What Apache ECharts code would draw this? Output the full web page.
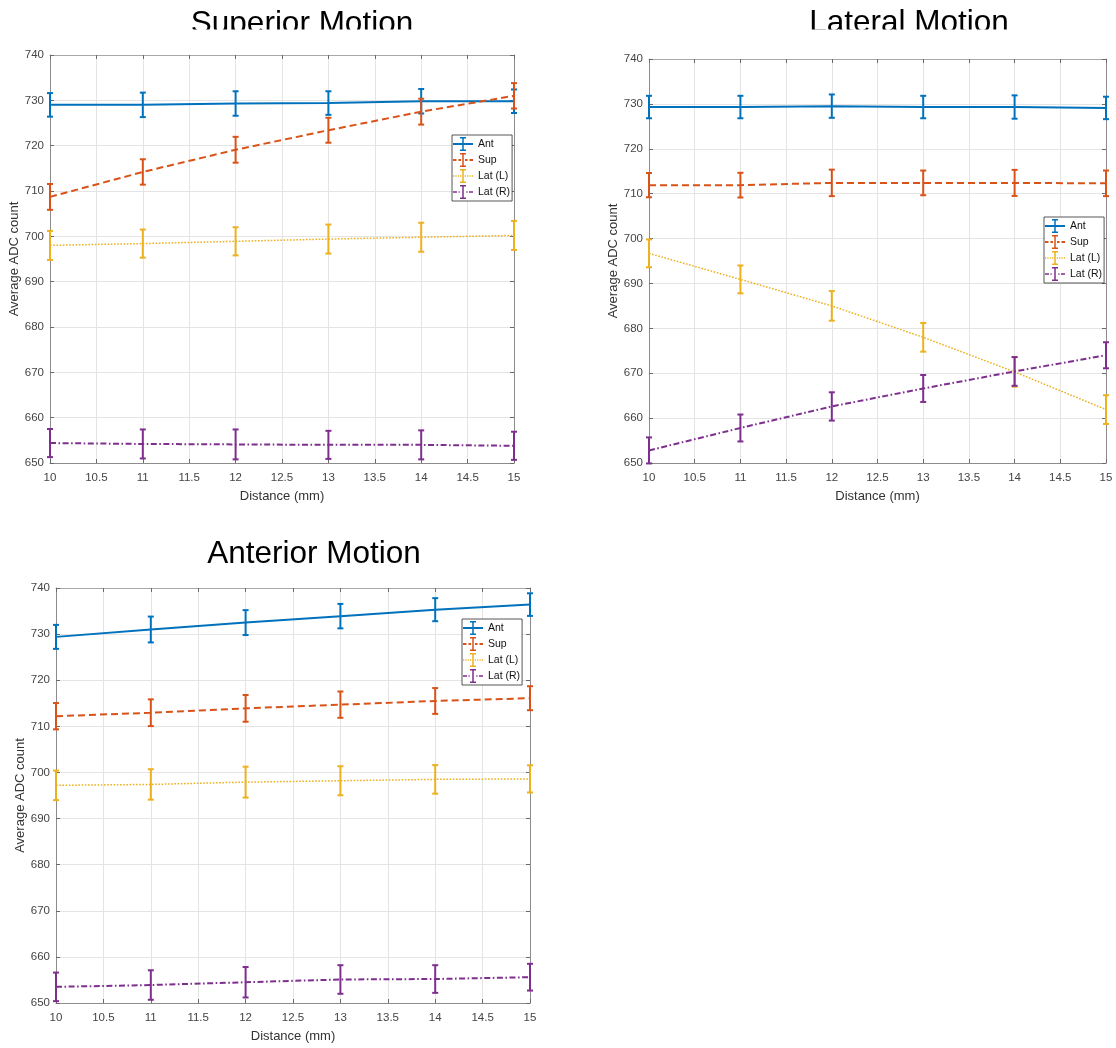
<!DOCTYPE html>
<html>
<head>
<meta charset="utf-8">
<title>Average ADC count vs distance</title>
<script src="https://cdn.jsdelivr.net/npm/echarts@6/dist/echarts.min.js"></script>
<style>
  html, body { margin: 0; padding: 0; background: #ffffff; }
  #chart { width: 1116px; height: 1048px; }
</style>
</head>
<body>
<div id="chart"></div>
<script>
// ---- data -------------------------------------------------------------
const distance = [10, 11, 12, 13, 14, 15];
const seriesNames = ['Ant', 'Sup', 'Lat (L)', 'Lat (R)'];
const panelTitles = ['Superior Motion', 'Lateral Motion', 'Anterior Motion'];
const xAxisTitle = 'Distance (mm)';
const yAxisTitle = 'Average ADC count';
const xMin = 10, xMax = 15, xStep = 0.5;
const yMin = 650, yMax = 740, yStep = 10;

// Superior motion: mean and error half-width per distance
const superiorAnt     = [729.0, 729.0, 729.3, 729.4, 729.8, 729.8];
const superiorAntErr  = [2.6, 2.7, 2.7, 2.6, 2.7, 2.6];
const superiorSup     = [708.7, 714.2, 719.1, 723.4, 727.5, 731.0];
const superiorSupErr  = [2.85, 2.8, 2.85, 2.75, 2.85, 2.8];
const superiorLatL    = [698.0, 698.4, 698.9, 699.4, 699.8, 700.2];
const superiorLatLErr = [3.2, 3.1, 3.1, 3.2, 3.2, 3.2];
const superiorLatR    = [654.4, 654.2, 654.1, 654.0, 654.0, 653.8];
const superiorLatRErr = [3.1, 3.2, 3.3, 3.1, 3.2, 3.1];

// Lateral motion
const lateralAnt     = [729.3, 729.3, 729.5, 729.3, 729.3, 729.1];
const lateralAntErr  = [2.5, 2.5, 2.6, 2.5, 2.6, 2.5];
const lateralSup     = [711.9, 711.9, 712.4, 712.4, 712.4, 712.3];
const lateralSupErr  = [2.7, 2.75, 2.95, 2.75, 2.9, 2.85];
const lateralLatL    = [696.7, 690.9, 685.0, 678.0, 670.3, 661.9];
const lateralLatLErr = [3.1, 3.1, 3.3, 3.2, 3.3, 3.2];
const lateralLatR    = [652.8, 657.8, 662.6, 666.6, 670.4, 674.0];
const lateralLatRErr = [2.9, 3.0, 3.15, 3.0, 3.2, 2.9];

// Anterior motion
const anteriorAnt     = [729.4, 731.0, 732.5, 733.9, 735.3, 736.4];
const anteriorAntErr  = [2.6, 2.8, 2.7, 2.65, 2.5, 2.45];
const anteriorSup     = [712.2, 712.95, 713.9, 714.7, 715.5, 716.1];
const anteriorSupErr  = [2.85, 2.9, 2.9, 2.85, 2.8, 2.6];
const anteriorLatL    = [697.2, 697.4, 697.9, 698.2, 698.5, 698.6];
const anteriorLatLErr = [3.2, 3.3, 3.35, 3.15, 3.1, 2.95];
const anteriorLatR    = [653.5, 653.9, 654.5, 655.1, 655.2, 655.6];
const anteriorLatRErr = [3.1, 3.2, 3.3, 3.1, 3.0, 2.9];

const panelMeans = [
  [superiorAnt, superiorSup, superiorLatL, superiorLatR],
  [lateralAnt, lateralSup, lateralLatL, lateralLatR],
  [anteriorAnt, anteriorSup, anteriorLatL, anteriorLatR]
];
const panelErrors = [
  [superiorAntErr, superiorSupErr, superiorLatLErr, superiorLatRErr],
  [lateralAntErr, lateralSupErr, lateralLatLErr, lateralLatRErr],
  [anteriorAntErr, anteriorSupErr, anteriorLatLErr, anteriorLatRErr]
];

// ---- layout and styling -------------------------------------------------
const FONT = '"Liberation Sans", Arial, Helvetica, sans-serif';

const panels = [
  { grid: { left: 50,  top: 55,  width: 464, height: 408 }, titleX: 302, titleY: 8,   legend: [452, 135] },
  { grid: { left: 649, top: 59,  width: 457, height: 404 }, titleX: 909, titleY: 7,   legend: [1044, 217] },
  { grid: { left: 56,  top: 588, width: 474, height: 415 }, titleX: 314, titleY: 538, legend: [462, 619] }
];

const lineStyles = [
  { color: '#0072BD', width: 2,   type: 'solid' },
  { color: '#D95319', width: 2,   type: [7, 4] },
  { color: '#EDB120', width: 1.5, type: [1.6, 1.6] },
  { color: '#7E2F8E', width: 2,   type: [6, 2.5, 1.6, 2.5] }
];

// Legend glyphs: a line sample (in the series' dash pattern) with an error-bar "I" in the middle.
function rect(x0, x1, y0, y1) {
  return 'M' + x0 + ' ' + y0 + 'H' + x1 + 'V' + y1 + 'H' + x0 + 'Z';
}
const errGlyph = rect(9.25, 10.75, 0, 14) + rect(7, 13, 0, 1.5) + rect(7, 13, 12.5, 14);
const dottedLine = (function () {
  let d = '';
  for (let k = 0; k <= 8; k++) { const x = +(k * 2.35).toFixed(2); d += rect(x, +(x + 1.2).toFixed(2), 6.3, 7.7); }
  return d;
})();
const legendIcons = [
  'path://' + rect(0, 20, 6, 8) + errGlyph,
  'path://' + rect(0, 3.5, 6, 8) + rect(5.5, 8, 6, 8) + rect(12, 14.5, 6, 8) + rect(16.5, 20, 6, 8) + errGlyph,
  'path://' + dottedLine + errGlyph,
  'path://' + rect(0, 4, 6.2, 7.8) + rect(5.5, 6.7, 6.2, 7.8) + rect(13.3, 14.5, 6.2, 7.8) + rect(16, 20, 6.2, 7.8) + errGlyph
];

const labelColor = '#444444';
const frameColor = '#8c8c8c';
const gridColor = '#e4e4e4';

function makeXAxis(gridIndex, onTop) {
  return {
    type: 'value', gridIndex: gridIndex, position: onTop ? 'top' : 'bottom',
    min: xMin, max: xMax, interval: xStep,
    name: onTop ? '' : xAxisTitle, nameLocation: 'middle', nameGap: 27,
    nameTextStyle: { fontFamily: FONT, fontSize: 13, color: '#333333' },
    axisLine: { show: true, onZero: false, lineStyle: { color: onTop ? '#a8a8a8' : frameColor, width: 1 } },
    axisTick: { show: true, inside: true, length: 4, lineStyle: { color: '#6a6a6a' } },
    axisLabel: { show: !onTop, margin: 9, fontFamily: FONT, fontSize: 11.5, color: labelColor },
    splitLine: { show: !onTop, lineStyle: { color: gridColor, width: 1 } }
  };
}
function makeYAxis(gridIndex, onRight) {
  return {
    type: 'value', gridIndex: gridIndex, position: onRight ? 'right' : 'left',
    min: yMin, max: yMax, interval: yStep,
    name: onRight ? '' : yAxisTitle, nameLocation: 'middle', nameGap: 28,
    nameTextStyle: { fontFamily: FONT, fontSize: 13, color: '#333333' },
    axisLine: { show: true, onZero: false, lineStyle: { color: frameColor, width: 1 } },
    axisTick: { show: true, inside: true, length: 4, lineStyle: { color: '#6a6a6a' } },
    axisLabel: { show: !onRight, margin: 6, fontFamily: FONT, fontSize: 11.5, color: labelColor },
    splitLine: { show: !onRight, lineStyle: { color: gridColor, width: 1 } }
  };
}

function lineSeries(p, s) {
  const st = lineStyles[s];
  return {
    type: 'line', name: seriesNames[s],
    xAxisIndex: 2 * p, yAxisIndex: 2 * p,
    data: distance.map((x, i) => [x, panelMeans[p][s][i]]),
    showSymbol: false, symbol: 'none', silent: true, z: 2 + s,
    color: st.color,
    lineStyle: { color: st.color, width: st.width, type: st.type },
    emphasis: { disabled: true }
  };
}

function errorSeries(p, s) {
  const color = lineStyles[s].color;
  return {
    type: 'custom', name: seriesNames[s],
    xAxisIndex: 2 * p, yAxisIndex: 2 * p,
    data: distance.map((x, i) => [x, panelMeans[p][s][i] - panelErrors[p][s][i], panelMeans[p][s][i] + panelErrors[p][s][i]]),
    encode: { x: 0, y: [1, 2] },
    silent: true, z: 2 + s,
    renderItem: function (params, api) {
      const x = api.value(0);
      const hi = api.coord([x, api.value(2)]);
      const lo = api.coord([x, api.value(1)]);
      const cap = 3;
      const style = { stroke: color, lineWidth: 2, fill: null };
      return {
        type: 'group',
        children: [
          { type: 'line', shape: { x1: hi[0], y1: hi[1], x2: lo[0], y2: lo[1] }, style: style },
          { type: 'line', shape: { x1: hi[0] - cap, y1: hi[1], x2: hi[0] + cap, y2: hi[1] }, style: style },
          { type: 'line', shape: { x1: lo[0] - cap, y1: lo[1], x2: lo[0] + cap, y2: lo[1] }, style: style }
        ]
      };
    }
  };
}

const grids = [], xAxes = [], yAxes = [], titles = [], legends = [], lines = [], bars = [];
panels.forEach((pn, p) => {
  grids.push(Object.assign({ containLabel: false, show: false }, pn.grid));
  xAxes.push(makeXAxis(p, false), makeXAxis(p, true));
  yAxes.push(makeYAxis(p, false), makeYAxis(p, true));
  titles.push({
    text: panelTitles[p], left: pn.titleX, top: pn.titleY, textAlign: 'center', padding: 0,
    textStyle: { fontFamily: FONT, fontSize: 31.5, fontWeight: 'normal', color: '#000000' }
  });
  legends.push({
    orient: 'vertical', left: pn.legend[0], top: pn.legend[1],
    itemWidth: 20, itemHeight: 14, itemGap: 2,
    padding: [2, 2, 2, 1],
    backgroundColor: '#ffffff', borderColor: '#2b2b2b', borderWidth: 0.8, borderRadius: 0,
    selectedMode: false,
    itemStyle: { borderWidth: 0 },
    textStyle: { fontFamily: FONT, fontSize: 10.5, color: '#111111' },
    data: seriesNames.map((n, k) => ({ name: n, icon: legendIcons[k] }))
  });
  for (let s = 0; s < seriesNames.length; s++) {
    lines.push(lineSeries(p, s));
    bars.push(errorSeries(p, s));
  }
});

const option = {
  animation: false,
  backgroundColor: '#ffffff',
  textStyle: { fontFamily: FONT },
  title: titles,
  legend: legends,
  grid: grids,
  xAxis: xAxes,
  yAxis: yAxes,
  series: lines.concat(bars),
  // the two upper titles sit against the top edge of their panels and are cut off along the bottom
  graphic: [
    { type: 'rect', z: 100, silent: true, shape: { x: 150, y: 29.5, width: 310, height: 15 }, style: { fill: '#ffffff' } },
    { type: 'rect', z: 100, silent: true, shape: { x: 760, y: 29.5, width: 300, height: 15 }, style: { fill: '#ffffff' } }
  ]
};

const chart = echarts.init(document.getElementById('chart'), null, { renderer: 'canvas' });
chart.setOption(option);
</script>
</body>
</html>
